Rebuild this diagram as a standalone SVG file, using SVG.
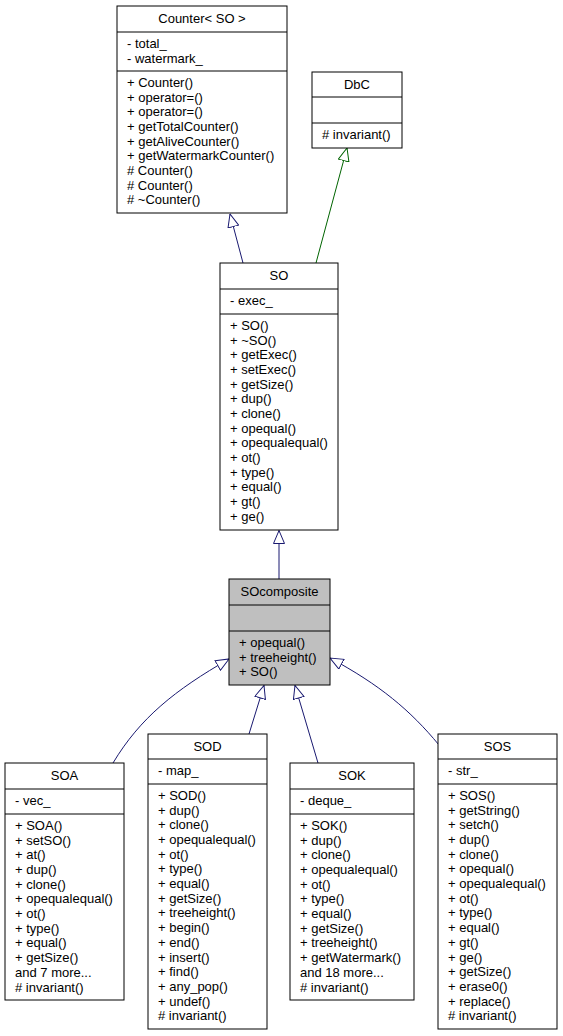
<svg xmlns="http://www.w3.org/2000/svg" width="563" height="1036" viewBox="0 0 563 1036">
<style>
.box{fill:#ffffff;stroke:#000000;stroke-width:1}
.hl{fill:#bfbfbf;stroke:#000000;stroke-width:1}
.sep{stroke:#000000;stroke-width:1}
text{font-family:"Liberation Sans",Arial,Helvetica,sans-serif;font-size:13px;fill:#000000}
.t{text-anchor:middle}
.e1{fill:none;stroke:#191970;stroke-width:1;marker-end:url(#ab)}
.e2{fill:none;stroke:#006400;stroke-width:1;marker-end:url(#ag)}
</style>
<defs>
<marker id="ab" markerUnits="userSpaceOnUse" viewBox="0 0 14 12" markerWidth="14" markerHeight="12" refX="13.5" refY="6" orient="auto">
<path d="M0.5,0.5 L13.5,6 L0.5,11.5 Z" fill="#ffffff" stroke="#191970" stroke-width="1"/>
</marker>
<marker id="ag" markerUnits="userSpaceOnUse" viewBox="0 0 14 12" markerWidth="14" markerHeight="12" refX="13.5" refY="6" orient="auto">
<path d="M0.5,0.5 L13.5,6 L0.5,11.5 Z" fill="#ffffff" stroke="#006400" stroke-width="1"/>
</marker>
</defs>
<rect width="563" height="1036" fill="#ffffff"/>
<g id="edges">
<path class="e1" d="M243,263 L230,214"/>
<path class="e2" d="M316,263 L347,148"/>
<path class="e1" d="M279,579 L279,530.5"/>
<path class="e1" d="M113,763 C140,718 175,690 229,659"/>
<path class="e1" d="M249,734 L264,685.5"/>
<path class="e1" d="M318,763 L295,685.5"/>
<path class="e1" d="M439,745 C410,710 380,685 330,658"/>
</g>
<g id="node-counter">
<rect class="box" x="117" y="6" width="170" height="207"/>
<line class="sep" x1="117" y1="32" x2="287" y2="32"/>
<line class="sep" x1="117" y1="71" x2="287" y2="71"/>
<text class="t" x="202" y="22.5">Counter&lt; SO &gt;</text>
<text x="127" y="47.8"><tspan x="127">- total_</tspan><tspan x="127" dy="14.7">- watermark_</tspan></text>
<text x="127" y="86.8"><tspan x="127">+ Counter()</tspan><tspan x="127" dy="14.7">+ operator=()</tspan><tspan x="127" dy="14.7">+ operator=()</tspan><tspan x="127" dy="14.7">+ getTotalCounter()</tspan><tspan x="127" dy="14.7">+ getAliveCounter()</tspan><tspan x="127" dy="14.7">+ getWatermarkCounter()</tspan><tspan x="127" dy="14.7"># Counter()</tspan><tspan x="127" dy="14.7"># Counter()</tspan><tspan x="127" dy="14.7"># ~Counter()</tspan></text>
</g>
<g id="node-dbc">
<rect class="box" x="312" y="72" width="90" height="76"/>
<line class="sep" x1="312" y1="97" x2="402" y2="97"/>
<line class="sep" x1="312" y1="123" x2="402" y2="123"/>
<text class="t" x="357" y="88.5">DbC</text>
<text x="322" y="138.8"># invariant()</text>
</g>
<g id="node-so">
<rect class="box" x="220" y="263" width="118" height="267"/>
<line class="sep" x1="220" y1="289" x2="338" y2="289"/>
<line class="sep" x1="220" y1="314" x2="338" y2="314"/>
<text class="t" x="279" y="279.5">SO</text>
<text x="230" y="304.8">- exec_</text>
<text x="230" y="329.8"><tspan x="230">+ SO()</tspan><tspan x="230" dy="14.7">+ ~SO()</tspan><tspan x="230" dy="14.7">+ getExec()</tspan><tspan x="230" dy="14.7">+ setExec()</tspan><tspan x="230" dy="14.7">+ getSize()</tspan><tspan x="230" dy="14.7">+ dup()</tspan><tspan x="230" dy="14.7">+ clone()</tspan><tspan x="230" dy="14.7">+ opequal()</tspan><tspan x="230" dy="14.7">+ opequalequal()</tspan><tspan x="230" dy="14.7">+ ot()</tspan><tspan x="230" dy="14.7">+ type()</tspan><tspan x="230" dy="14.7">+ equal()</tspan><tspan x="230" dy="14.7">+ gt()</tspan><tspan x="230" dy="14.7">+ ge()</tspan></text>
</g>
<g id="node-socomposite">
<rect class="hl" x="229" y="579" width="101" height="106"/>
<line class="sep" x1="229" y1="605" x2="330" y2="605"/>
<line class="sep" x1="229" y1="631" x2="330" y2="631"/>
<text class="t" x="279.5" y="595.5">SOcomposite</text>
<text x="239" y="646.8"><tspan x="239">+ opequal()</tspan><tspan x="239" dy="14.7">+ treeheight()</tspan><tspan x="239" dy="14.7">+ SO()</tspan></text>
</g>
<g id="node-soa">
<rect class="box" x="5" y="763" width="119" height="237"/>
<line class="sep" x1="5" y1="789" x2="124" y2="789"/>
<line class="sep" x1="5" y1="814" x2="124" y2="814"/>
<text class="t" x="64.5" y="779.5">SOA</text>
<text x="15" y="804.8">- vec_</text>
<text x="15" y="829.8"><tspan x="15">+ SOA()</tspan><tspan x="15" dy="14.7">+ setSO()</tspan><tspan x="15" dy="14.7">+ at()</tspan><tspan x="15" dy="14.7">+ dup()</tspan><tspan x="15" dy="14.7">+ clone()</tspan><tspan x="15" dy="14.7">+ opequalequal()</tspan><tspan x="15" dy="14.7">+ ot()</tspan><tspan x="15" dy="14.7">+ type()</tspan><tspan x="15" dy="14.7">+ equal()</tspan><tspan x="15" dy="14.7">+ getSize()</tspan><tspan x="15" dy="14.7">and 7 more...</tspan><tspan x="15" dy="14.7"># invariant()</tspan></text>
</g>
<g id="node-sod">
<rect class="box" x="148" y="734" width="119" height="295"/>
<line class="sep" x1="148" y1="759" x2="267" y2="759"/>
<line class="sep" x1="148" y1="784" x2="267" y2="784"/>
<text class="t" x="207.5" y="750.5">SOD</text>
<text x="158" y="774.8">- map_</text>
<text x="158" y="799.8"><tspan x="158">+ SOD()</tspan><tspan x="158" dy="14.7">+ dup()</tspan><tspan x="158" dy="14.7">+ clone()</tspan><tspan x="158" dy="14.7">+ opequalequal()</tspan><tspan x="158" dy="14.7">+ ot()</tspan><tspan x="158" dy="14.7">+ type()</tspan><tspan x="158" dy="14.7">+ equal()</tspan><tspan x="158" dy="14.7">+ getSize()</tspan><tspan x="158" dy="14.7">+ treeheight()</tspan><tspan x="158" dy="14.7">+ begin()</tspan><tspan x="158" dy="14.7">+ end()</tspan><tspan x="158" dy="14.7">+ insert()</tspan><tspan x="158" dy="14.7">+ find()</tspan><tspan x="158" dy="14.7">+ any_pop()</tspan><tspan x="158" dy="14.7">+ undef()</tspan><tspan x="158" dy="14.7"># invariant()</tspan></text>
</g>
<g id="node-sok">
<rect class="box" x="290" y="763" width="124" height="237"/>
<line class="sep" x1="290" y1="789" x2="414" y2="789"/>
<line class="sep" x1="290" y1="814" x2="414" y2="814"/>
<text class="t" x="352" y="779.5">SOK</text>
<text x="300" y="804.8">- deque_</text>
<text x="300" y="829.8"><tspan x="300">+ SOK()</tspan><tspan x="300" dy="14.7">+ dup()</tspan><tspan x="300" dy="14.7">+ clone()</tspan><tspan x="300" dy="14.7">+ opequalequal()</tspan><tspan x="300" dy="14.7">+ ot()</tspan><tspan x="300" dy="14.7">+ type()</tspan><tspan x="300" dy="14.7">+ equal()</tspan><tspan x="300" dy="14.7">+ getSize()</tspan><tspan x="300" dy="14.7">+ treeheight()</tspan><tspan x="300" dy="14.7">+ getWatermark()</tspan><tspan x="300" dy="14.7">and 18 more...</tspan><tspan x="300" dy="14.7"># invariant()</tspan></text>
</g>
<g id="node-sos">
<rect class="box" x="438" y="734" width="119" height="295"/>
<line class="sep" x1="438" y1="759" x2="557" y2="759"/>
<line class="sep" x1="438" y1="784" x2="557" y2="784"/>
<text class="t" x="497.5" y="750.5">SOS</text>
<text x="448" y="774.8">- str_</text>
<text x="448" y="799.8"><tspan x="448">+ SOS()</tspan><tspan x="448" dy="14.7">+ getString()</tspan><tspan x="448" dy="14.7">+ setch()</tspan><tspan x="448" dy="14.7">+ dup()</tspan><tspan x="448" dy="14.7">+ clone()</tspan><tspan x="448" dy="14.7">+ opequal()</tspan><tspan x="448" dy="14.7">+ opequalequal()</tspan><tspan x="448" dy="14.7">+ ot()</tspan><tspan x="448" dy="14.7">+ type()</tspan><tspan x="448" dy="14.7">+ equal()</tspan><tspan x="448" dy="14.7">+ gt()</tspan><tspan x="448" dy="14.7">+ ge()</tspan><tspan x="448" dy="14.7">+ getSize()</tspan><tspan x="448" dy="14.7">+ erase0()</tspan><tspan x="448" dy="14.7">+ replace()</tspan><tspan x="448" dy="14.7"># invariant()</tspan></text>
</g>
</svg>
